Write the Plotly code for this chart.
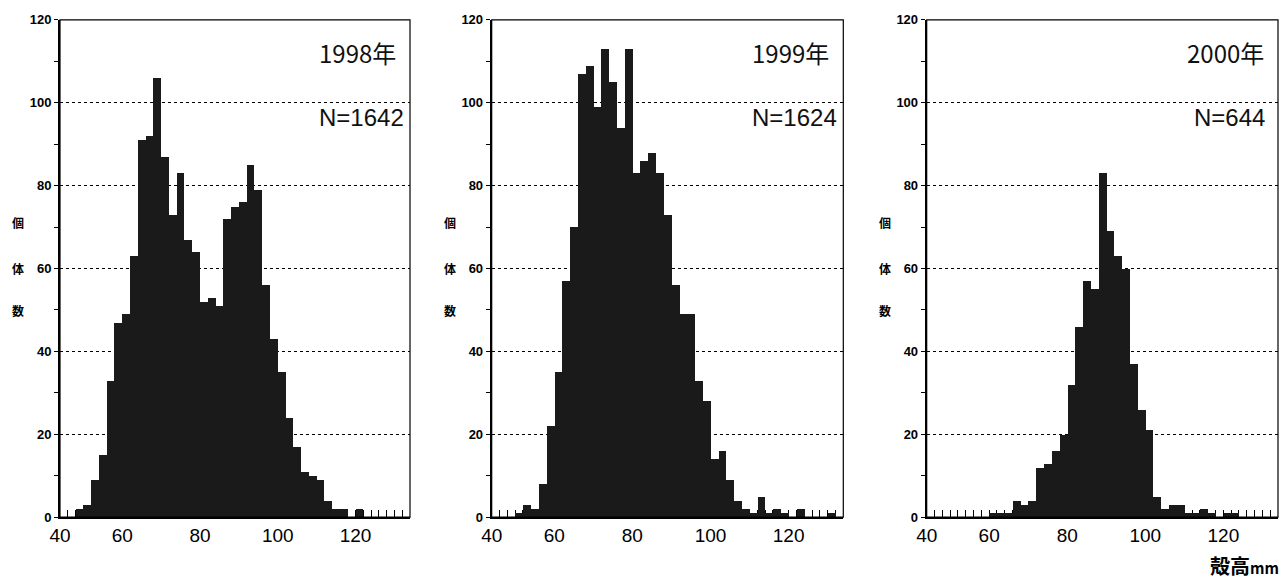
import plotly.graph_objects as go

# bin left edges (mm), bin width 2 mm
bin_left = [44, 46, 48, 50, 52, 54, 56, 58, 60, 62, 64, 66, 68, 70, 72, 74, 76, 78,
            80, 82, 84, 86, 88, 90, 92, 94, 96, 98, 100, 102, 104, 106, 108, 110,
            112, 114, 116, 118, 120, 122, 124, 126, 128, 130, 132]
bin_width = 2

counts_1998 = [0, 0, 2, 3, 9, 15, 33, 47, 49, 63, 91, 92, 106, 87, 73, 83, 67, 64,
               52, 53, 51, 72, 75, 76, 85, 79, 56, 43, 35, 24, 17, 11, 10, 9,
               4, 2, 2, 0, 2, 0, 0, 0, 0, 0, 0]
counts_1999 = [0, 0, 0, 1, 3, 2, 8, 22, 35, 57, 70, 107, 109, 99, 113, 105, 94, 113,
               83, 86, 88, 83, 73, 56, 49, 49, 33, 28, 14, 16, 9, 4, 2, 1,
               5, 1, 2, 1, 0, 2, 0, 0, 0, 1, 0]
counts_2000 = [0, 0, 0, 0, 0, 0, 0, 0, 1, 1, 1, 4, 3, 4, 12, 13, 16, 20,
               32, 46, 57, 55, 83, 69, 63, 60, 37, 26, 21, 5, 2, 3, 3, 1,
               1, 2, 1, 0, 1, 1, 0, 0, 0, 0, 0]

years = ["1998年", "1999年", "2000年"]
n_labels = ["N=1642", "N=1624", "N=644"]
series = [counts_1998, counts_1999, counts_2000]

x_tickvals = [44, 60, 80, 100, 120]
x_ticktext = ["40", "60", "80", "100", "120"]
y_tickvals = [0, 20, 40, 60, 80, 100, 120]

W, H = 1283, 579
x_domains = [(60, 410), (491.7, 843.3), (926.7, 1278)]
y_dom = ((H - 517.2) / H, (H - 19.8) / H)

fig = go.Figure()
centers = [b + bin_width / 2 for b in bin_left]

for i, vals in enumerate(series):
    sfx = "" if i == 0 else str(i + 1)
    fig.add_trace(go.Bar(
        x=centers, y=vals, width=bin_width,
        marker=dict(color="#1a1a1a", line=dict(width=0)),
        xaxis="x" + sfx, yaxis="y" + sfx, showlegend=False,
    ))
    d0, d1 = x_domains[i]
    fig.layout["xaxis" + sfx] = dict(
        domain=[d0 / W, d1 / W], anchor="y" + sfx, range=[44, 134],
        automargin=False,
        tickmode="array", tickvals=x_tickvals, ticktext=x_ticktext,
        ticks="inside", ticklen=7, tickwidth=1.2, tickcolor="black",
        minor=dict(tick0=44, dtick=2, ticks="inside", ticklen=7, tickwidth=1.2,
                   tickcolor="black", showgrid=False),
        showline=True, linecolor="black", linewidth=2, showgrid=False,
        zeroline=False, layer="below traces",
        tickfont=dict(family="Liberation Sans, Arial, sans-serif", size=19, color="black"),
        fixedrange=True,
    )
    fig.layout["yaxis" + sfx] = dict(
        domain=list(y_dom), anchor="x" + sfx, range=[0, 120],
        automargin=False,
        tickmode="array", tickvals=y_tickvals,
        ticks="outside", ticklen=4, tickwidth=1.2, tickcolor="black",
        minor=dict(dtick=10, tick0=0, ticks="outside", ticklen=4, tickwidth=1.2,
                   tickcolor="black", showgrid=False),
        showline=True, linecolor="black", linewidth=2,
        showgrid=True, gridcolor="black", gridwidth=1.2, griddash="dot",
        zeroline=False,
        tickfont=dict(family="Liberation Sans, Arial, sans-serif", size=13, color="black",
                      weight="bold"),
        fixedrange=True,
    )
    # frame
    fig.add_shape(type="rect", xref="x" + sfx + " domain", yref="y" + sfx + " domain",
                  x0=0, x1=1, y0=0, y1=1, line=dict(color="black", width=1.2),
                  layer="above")
    # year and N labels
    fig.add_annotation(x=120.5, y=112.2, xref="x" + sfx, yref="y" + sfx,
                       text=years[i], showarrow=False, xanchor="center", yanchor="middle",
                       font=dict(family="Noto Sans CJK JP", size=24, color="#111"))
    fig.add_annotation(x=121.5, y=96.5, xref="x" + sfx, yref="y" + sfx,
                       text=n_labels[i], showarrow=False, xanchor="center", yanchor="middle",
                       font=dict(family="Liberation Sans, Arial, sans-serif", size=24,
                                 color="#111"))
    # y-axis title (vertical characters)
    for ch, yy in zip(["個", "体", "数"], [0.5915, 0.501, 0.4146]):
        fig.add_annotation(x=0, xref="x" + sfx + " domain", xshift=-42,
                           y=yy, yref="y" + sfx + " domain",
                           text=ch, showarrow=False, xanchor="center", yanchor="middle",
                           font=dict(family="Noto Sans CJK JP", size=12, color="black",
                                     weight="bold"))

fig.add_annotation(x=1, y=(H - 565) / H, xref="paper", yref="paper",
                   text="殻高<span style='font-size:15px'>mm</span>", showarrow=False,
                   xanchor="right", yanchor="middle", xshift=-2,
                   font=dict(family="Noto Sans CJK JP", size=20, color="black", weight="bold"))

fig.update_layout(
    width=W, height=H, margin=dict(l=0, r=0, t=0, b=0, autoexpand=False),
    paper_bgcolor="white", plot_bgcolor="white",
    bargap=0, showlegend=False,
)

fig.write_html("out.html", config={"displayModeBar": False},
               post_script="document.body.style.margin='0';document.body.style.overflow='hidden';")
